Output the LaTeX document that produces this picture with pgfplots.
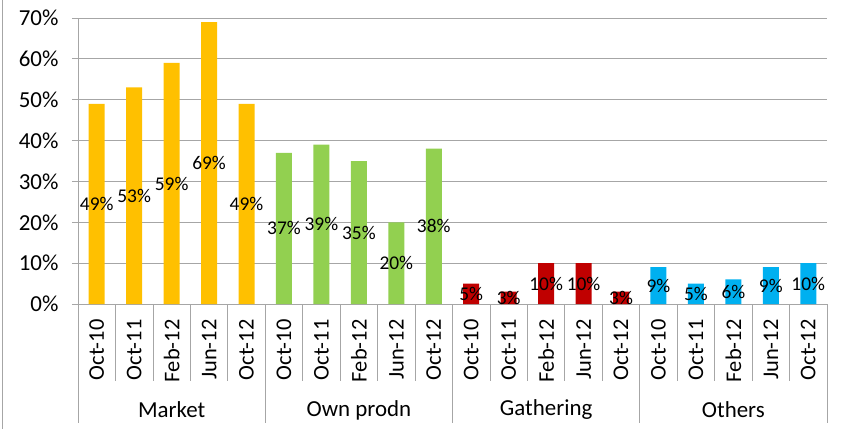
\documentclass[border=0pt]{standalone}
\usepackage{pgfplots}
\pgfplotsset{compat=1.18}
\usepackage{fontspec}
\setmainfont{Carlito}
\definecolor{cyel}{HTML}{FFC000}
\definecolor{cgrn}{HTML}{92D050}
\definecolor{cred}{HTML}{C00000}
\definecolor{cblu}{HTML}{00B0F0}
\definecolor{lgray}{HTML}{A6A6A6}
\begin{document}
\begin{tikzpicture}
\path[use as bounding box] (-78bp,-125bp) rectangle (769bp,304bp);
\draw[lgray, line width=0.8pt] (-76bp,-125bp) -- (-76bp,304bp);
\begin{axis}[
  at={(0,0)}, anchor=south west,
  scale only axis, width=749bp, height=286bp,
  xmin=-0.5, xmax=19.5, ymin=0, ymax=70,
  clip=false,
  /pgf/number format/assume math mode=true,
  ytick={0,10,...,70},
  yticklabel={\pgfmathprintnumber{\tick}\%},
  yticklabel style={font=\fontsize{23}{23}\selectfont, xshift=-10bp},
  ymajorgrids, grid style={lgray, line width=0.8pt},
  axis x line*=bottom, axis y line*=left,
  axis line style={lgray, line width=0.8pt, -},
  tick align=outside, major tick length=6bp,
  ytick style={lgray, line width=0.8pt},
  xtick style={draw=none},
  xtick={0,...,19},
  xticklabels={Oct-10,Oct-11,Feb-12,Jun-12,Oct-12,Oct-10,Oct-11,Feb-12,Jun-12,Oct-12,Oct-10,Oct-11,Feb-12,Jun-12,Oct-12,Oct-10,Oct-11,Feb-12,Jun-12,Oct-12},
  xticklabel style={rotate=90, anchor=east, font=\fontsize{22.5}{22.5}\selectfont},
  xticklabel shift=6bp,
  ybar, bar width=16bp, bar shift=0pt,
  visualization depends on={rawy \as \rawy},
  nodes near coords={\pgfmathprintnumber{\pgfplotspointmeta}\%},
  every node near coord/.append style={anchor=center, text=black,
     font=\fontsize{19.5}{19.5}\selectfont, yshift=-\rawy*2.04286bp},
]
\addplot[fill=cyel, draw=none] coordinates {(0,49) (1,53) (2,59) (3,69) (4,49)};
\addplot[fill=cgrn, draw=none] coordinates {(5,37) (6,39) (7,35) (8,20) (9,38)};
\addplot[fill=cred, draw=none] coordinates {(10,5) (11,3) (12,10) (13,10) (14,3)};
\addplot[fill=cblu, draw=none] coordinates {(15,9) (16,5) (17,6) (18,9) (19,10)};
\pgfplotsinvokeforeach{0.5,1.5,2.5,3.5,5.5,6.5,7.5,8.5,10.5,11.5,12.5,13.5,15.5,16.5,17.5,18.5}{
  \draw[lgray, line width=0.8pt] (axis cs:#1,0) -- ([yshift=-77bp]axis cs:#1,0);
}
\pgfplotsinvokeforeach{-0.5,4.5,9.5,14.5,19.5}{
  \draw[lgray, line width=0.8pt] (axis cs:#1,0) -- ([yshift=-119bp]axis cs:#1,0);
}
\node[font=\fontsize{23}{23}\selectfont] at ([yshift=-106bp]axis cs:2,0) {Market};
\node[font=\fontsize{23}{23}\selectfont] at ([yshift=-106bp]axis cs:7,0) {Own prodn};
\node[font=\fontsize{23}{23}\selectfont] at ([yshift=-106bp]axis cs:12,0) {Gathering};
\node[font=\fontsize{23}{23}\selectfont] at ([yshift=-106bp]axis cs:17,0) {Others};
\end{axis}
\end{tikzpicture}
\end{document}
